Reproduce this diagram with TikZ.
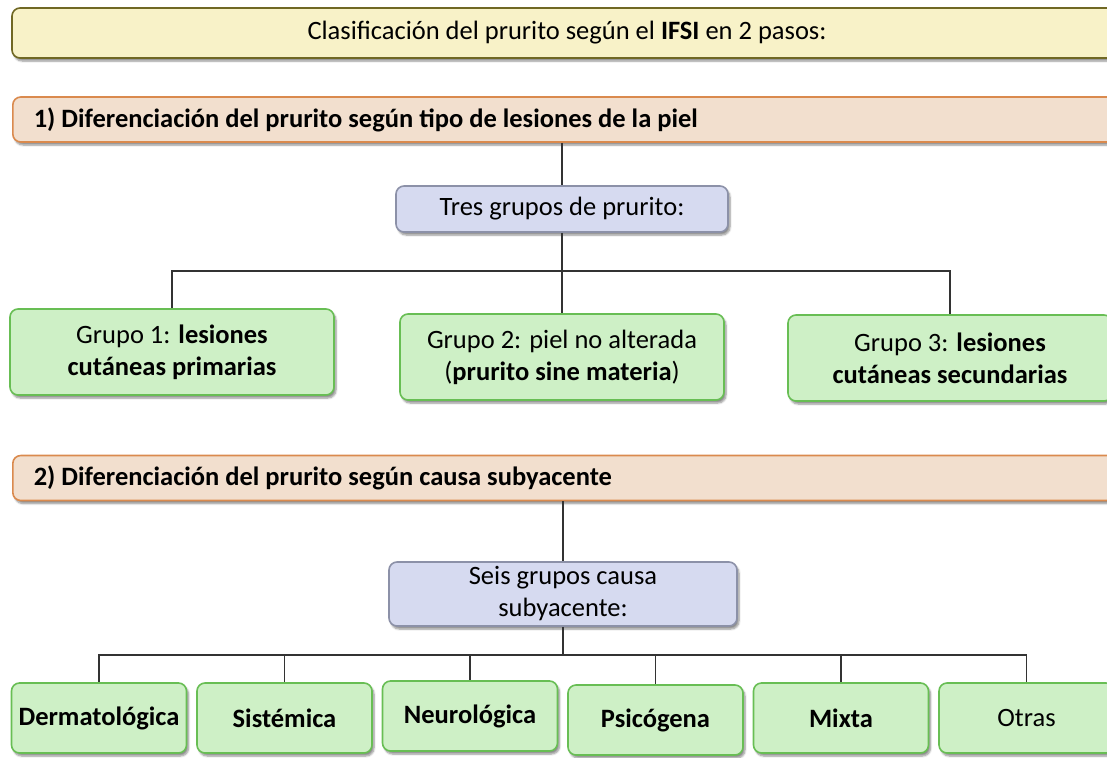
\documentclass[tikz,border=0pt]{standalone}
\RequirePackage{fontspec}
\setmainfont{Carlito}
\RequirePackage{tikz}
\usetikzlibrary{shadows.blur}

\definecolor{amarillo}{RGB}{248,242,200}
\definecolor{oliva}{RGB}{112,104,36}
\definecolor{salmon}{RGB}{242,223,206}
\definecolor{naranja}{RGB}{218,138,78}
\definecolor{lavanda}{RGB}{214,218,240}
\definecolor{grisazul}{RGB}{140,145,168}
\definecolor{verdeclaro}{RGB}{206,240,198}
\definecolor{verde}{RGB}{104,190,84}

\begin{document}
\begin{tikzpicture}[x=1pt,y=-1pt,
                caja/.style={rounded corners=8pt,line width=1.6pt,align=center,
                        font=\fontsize{26.5}{32}\selectfont,inner sep=0pt,
                        blur shadow={shadow xshift=2pt,shadow yshift=-3pt,
                                shadow blur steps=6,shadow opacity=45}},
                titulobox/.style={caja,draw=oliva,fill=amarillo,
                        minimum width=1110pt,minimum height=50pt},
                pasobox/.style={caja,draw=naranja,fill=salmon,anchor=west,
                        align=flush left,text width=1068pt,inner xsep=21pt,
                        minimum height=45pt,font=\fontsize{26.5}{32}\selectfont\bfseries},
                grupobox/.style={caja,draw=grisazul,fill=lavanda},
                hojabox/.style={caja,draw=verde,fill=verdeclaro,minimum height=86pt,
                        minimum width=324pt},
                causabox/.style={caja,draw=verde,fill=verdeclaro,minimum height=70pt,
                        minimum width=175pt},
                linea/.style={draw=black!80,line width=1.2pt}]

                \useasboundingbox (0,0) rectangle (1107,757);
                \clip (0,0) rectangle (1107,757);

                \node[titulobox] (titulo) at (567,33)
                        {Clasificación del prurito según el \textbf{IFSI} en 2 pasos:};

                \node[pasobox] (paso1) at (12,119.5)
                        {1) Diferenciación del prurito según tipo de lesiones de la piel};
                \node[grupobox,minimum width=332pt,minimum height=46pt] (tres) at (562,209)
                        {Tres grupos de prurito:};

                \node[hojabox] (g1) at (172,352)
                        {Grupo 1: \textbf{lesiones}\\\textbf{cutáneas primarias}};
                \node[hojabox] (g2) at (562,357)
                        {Grupo 2: piel no alterada\\(\textbf{prurito sine materia})};
                \node[hojabox] (g3) at (950,358)
                        {Grupo 3: \textbf{lesiones}\\\textbf{cutáneas secundarias}};

                \node[pasobox] (paso2) at (12,478)
                        {2) Diferenciación del prurito según causa subyacente};
                \node[grupobox,minimum width=348pt,minimum height=64pt] (seis) at (563,594)
                        {Seis grupos causa\\subyacente:};

                \node[causabox] (c1) at (99,718) {\textbf{Dermatológica}};
                \node[causabox] (c2) at (284.5,718) {\textbf{Sistémica}};
                \node[causabox] (c3) at (470,716) {\textbf{Neurológica}};
                \node[causabox] (c4) at (655.5,720) {\textbf{Psicógena}};
                \node[causabox] (c5) at (841,718) {\textbf{Mixta}};
                \node[causabox] (c6) at (1026.5,718) {Otras};

                \coordinate (bus1) at (562,271);
                \coordinate (bus2) at (563,655);

                \draw[linea] (tres.north |- paso1.south) -- (tres.north);
                \draw[linea] (tres.south) -- (bus1);
                \draw[linea] (bus1) -| (g1.north);
                \draw[linea] (bus1) -| (g2.north);
                \draw[linea] (bus1) -| (g3.north);

                \draw[linea] (seis.north |- paso2.south) -- (seis.north);
                \draw[linea] (seis.south) -- (bus2);
                \draw[linea] (bus2) -| (c1.north);
                \draw[linea] (bus2) -| (c2.north);
                \draw[linea] (bus2) -| (c3.north);
                \draw[linea] (bus2) -| (c4.north);
                \draw[linea] (bus2) -| (c5.north);
                \draw[linea] (bus2) -| (c6.north);
            \end{tikzpicture}
\end{document}
